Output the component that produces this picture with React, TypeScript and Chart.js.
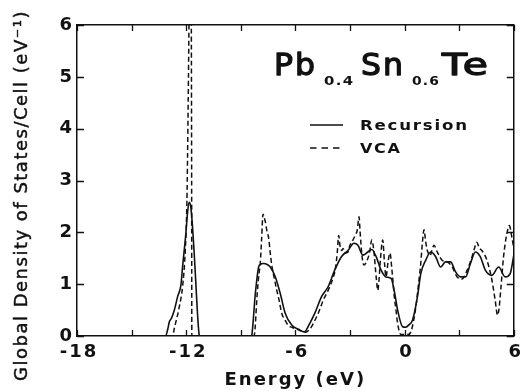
import React, { useEffect, useRef } from "react";
import { Chart, registerables } from "chart.js";

Chart.register(...registerables);

// ---- Data ----
const recursionEnergy = [
  -13.2, -13.14, -13.0, -12.93, -12.8, -12.65, -12.47, -12.29, -12.2, -12.02, -11.93, -11.84,
  -11.75, -11.65, -11.56, -11.47, -11.38, -11.29, -11.25,
  -8.42, -8.38, -8.2, -8.02, -7.93, -7.74, -7.55, -7.38, -7.1, -6.83, -6.56, -6.2, -5.83, -5.51,
  -5.2, -4.93, -4.56, -4.2, -3.84, -3.47, -3.11, -2.78, -2.56, -2.29, -2.02, -1.8, -1.56, -1.29,
  -1.02, -0.74, -0.56, -0.38, -0.11, 0.07, 0.25, 0.44, 0.71, 0.89, 1.16, 1.44, 1.71, 1.98, 2.25,
  2.53, 2.8, 3.07, 3.35, 3.62, 3.89, 4.16, 4.44, 4.8, 5.17, 5.53, 5.8, 6.0,
];
const recursionDos = [
  0, 0, 0.15, 0.27, 0.35, 0.5, 0.76, 0.98, 1.33, 1.97, 2.36, 2.58,
  2.5, 2.1, 1.6, 1.02, 0.44, 0.03, 0,
  0, 0.05, 0.82, 1.33, 1.38, 1.4, 1.38, 1.33, 1.14, 0.82, 0.44, 0.21, 0.13, 0.08,
  0.25, 0.44, 0.76, 0.95, 1.27, 1.53, 1.65, 1.79, 1.75, 1.56, 1.62, 1.67, 1.53, 1.27,
  1.14, 1.11, 0.86, 0.5, 0.18, 0.17, 0.22, 0.31, 0.76, 1.2, 1.46, 1.62, 1.53, 1.33, 1.43,
  1.43, 1.24, 1.14, 1.14, 1.4, 1.62, 1.53, 1.27, 1.17, 1.33, 1.14, 1.2, 1.55,
];

const vcaEnergy = [
  -13.0, -12.75, -12.65, -12.38, -12.2, -12.05, -11.96, -11.89, -11.84, -11.78, -11.72, -11.7, -11.69,
  -8.3, -8.24, -8.1, -8.0, -7.93, -7.85, -7.78, -7.72, -7.65, -7.55, -7.47, -7.38, -7.29, -7.15,
  -7.02, -6.9, -6.75, -6.56, -6.38, -6.2, -5.83, -5.47, -5.3, -5.11, -4.93, -4.74, -4.47, -4.2,
  -3.95, -3.8, -3.7, -3.62, -3.55, -3.45, -3.38, -3.25, -3.11, -3.0, -2.84, -2.7, -2.6, -2.5,
  -2.45, -2.4, -2.34, -2.24, -2.11, -1.93, -1.8, -1.69, -1.56, -1.47, -1.4, -1.33, -1.2, -1.1,
  -1.02, -0.9, -0.8, -0.7, -0.56, -0.47, -0.38, -0.2, 0.2, 0.35, 0.5, 0.62, 0.75, 0.89, 0.98,
  1.07, 1.15, 1.22, 1.3, 1.4, 1.5, 1.62, 1.8, 2.07, 2.35, 2.62, 2.89, 3.16, 3.44, 3.71, 3.85,
  3.98, 4.1, 4.25, 4.53, 4.8, 4.98, 5.11, 5.2, 5.3, 5.44, 5.62, 5.76, 5.9, 6.0,
];
const vcaDos = [
  0, 0, 0.15, 0.56, 0.95, 1.65, 2.6, 4.5, 6.2, 8.0, 6.2, 3.0, 0,
  0, 0.05, 0.8, 1.2, 1.4, 1.9, 2.35, 2.3, 2.2, 2.0, 1.9, 1.6, 1.35, 1.1,
  0.88, 0.7, 0.44, 0.3, 0.2, 0.17, 0.12, 0.07, 0.1, 0.18, 0.3, 0.44, 0.69, 0.88,
  1.1, 1.3, 1.6, 1.94, 1.75, 1.65, 1.69, 1.6, 1.62, 1.75, 1.85, 1.95, 2.04, 2.3,
  2.05, 1.8, 1.55, 1.37, 1.42, 1.6, 1.85, 1.65, 1.14, 0.88, 1.1, 1.46, 1.85, 1.4,
  1.14, 1.45, 1.6, 1.3, 0.75, 0.5, 0.24, 0.03, 0.03, 0.08, 0.3, 0.56, 0.95, 1.4, 1.8,
  2.05, 1.85, 1.7, 1.6, 1.55, 1.65, 1.75, 1.62, 1.46, 1.43, 1.33, 1.14, 1.1, 1.27, 1.53, 1.7,
  1.81, 1.7, 1.65, 1.46, 1.08, 0.69, 0.4, 0.55, 0.95, 1.53, 1.97, 2.13, 1.9, 1.7,
];

const energyMin = -18;
const energyMax = 6;
const energyStep = 3;
const energyTickLabels = ["-18", "-12", "-6", "0", "6"];
const dosMin = 0;
const dosMax = 6;
const dosStep = 1;

const seriesLabels = ["Recursion", "VCA"];
const xAxisTitle = "Energy (eV)";
const yAxisTitle = "Global Density of States/Cell (eV\u207B\u00B9)";
const compoundParts = ["Pb", "0.4", "Sn", "0.6", "Te"];
const compoundIsSub = [false, true, false, true, false];

const FONT = "'DejaVu Sans', sans-serif";
const INK = "#111";

// draws text stretched horizontally so it spans [x0, x1]
function drawFitted(
  ctx: CanvasRenderingContext2D,
  text: string,
  font: string,
  spacing: number,
  x0: number,
  x1: number,
  baseline: number,
  outline = 0
) {
  ctx.save();
  ctx.font = font;
  ctx.letterSpacing = `${spacing}px`;
  ctx.textAlign = "left";
  ctx.textBaseline = "alphabetic";
  const w = ctx.measureText(text).width - spacing;
  const sx = (x1 - x0) / w;
  ctx.translate(x0, baseline);
  ctx.scale(sx, 1);
  ctx.fillText(text, 0, 0);
  if (outline > 0) {
    ctx.lineWidth = outline;
    ctx.lineJoin = "round";
    ctx.strokeText(text, 0, 0);
  }
  ctx.restore();
}

const decorPlugin = {
  id: "decor",
  beforeDraw(chart: any) {
    chart.ctx.letterSpacing = "2px";
  },
  afterDraw(chart: any) {
    const ctx = chart.ctx as CanvasRenderingContext2D;
    const area = chart.chartArea;
    const L = area.left;
    const T = area.top;
    ctx.save();
    ctx.fillStyle = INK;
    ctx.strokeStyle = INK;

    // inward tick marks on all four sides
    ctx.lineWidth = 1.3;
    const xs = chart.scales.x;
    const ys = chart.scales.y;
    ctx.beginPath();
    for (const t of xs.ticks) {
      const px = Math.round(xs.getPixelForValue(t.value)) + 0.5;
      ctx.moveTo(px, area.bottom);
      ctx.lineTo(px, area.bottom - 6);
      ctx.moveTo(px, area.top);
      ctx.lineTo(px, area.top + 6);
    }
    for (const t of ys.ticks) {
      const py = Math.round(ys.getPixelForValue(t.value)) + 0.5;
      ctx.moveTo(area.left, py);
      ctx.lineTo(area.left + 7, py);
      ctx.moveTo(area.right, py);
      ctx.lineTo(area.right - 7, py);
    }
    ctx.stroke();

    // y axis title
    ctx.save();
    ctx.letterSpacing = "1.5px";
    ctx.font = `18px ${FONT}`;
    ctx.lineWidth = 0.45;
    ctx.translate(22, (area.top + area.bottom) / 2 + 15);
    ctx.rotate(-Math.PI / 2);
    ctx.textAlign = "center";
    ctx.textBaseline = "middle";
    ctx.fillText(yAxisTitle, 0, 0);
    ctx.strokeText(yAxisTitle, 0, 0);
    ctx.restore();

    // compound formula with subscripts
    const partSpans = [
      [L + 197, L + 238],
      [L + 247, L + 276],
      [L + 284, L + 326],
      [L + 335, L + 362],
      [L + 365, L + 411],
    ];
    compoundParts.forEach((txt, i) => {
      const sub = compoundIsSub[i];
      drawFitted(
        ctx,
        txt,
        sub ? `bold 11.5px ${FONT}` : `30px ${FONT}`,
        sub ? 1 : 2,
        partSpans[i][0],
        partSpans[i][1],
        sub ? T + 60 : T + 50,
        sub ? 0 : 1.3
      );
    });

    // legend
    const ds = chart.data.datasets;
    const lineY = [T + 100, T + 123];
    const textBase = [T + 105, T + 128];
    const textEnd = [L + 390, L + 323];
    ds.forEach((d: any, i: number) => {
      ctx.save();
      ctx.lineWidth = 1.5;
      ctx.setLineDash(i === 0 ? [] : [6.5, 5]);
      ctx.beginPath();
      ctx.moveTo(L + 233, lineY[i]);
      ctx.lineTo(L + 266, lineY[i]);
      ctx.stroke();
      ctx.restore();
      drawFitted(ctx, d.label, `bold 14px ${FONT}`, 1.5, L + 283, textEnd[i], textBase[i]);
    });
    ctx.restore();
  },
};

export default function App() {
  const ref = useRef<HTMLCanvasElement | null>(null);

  useEffect(() => {
    if (!ref.current) return;
    const recursionPoints = recursionEnergy.map((e, i) => ({ x: e, y: recursionDos[i] }));
    const vcaPoints = vcaEnergy.map((e, i) => ({ x: e, y: vcaDos[i] }));

    const tickFont = { family: FONT, size: 18, weight: "bold" as const };
    const axisCommon = {
      type: "linear" as const,
      border: { display: true, color: INK, width: 1.5 },
      grid: { display: false, drawOnChartArea: false, drawTicks: false },
    };

    const chart = new Chart(ref.current, {
      type: "line",
      data: {
        datasets: [
          {
            label: seriesLabels[0],
            data: recursionPoints,
            borderColor: INK,
            borderWidth: 1.6,
            pointRadius: 0,
            fill: false,
            cubicInterpolationMode: "monotone",
          },
          {
            label: seriesLabels[1],
            data: vcaPoints,
            borderColor: INK,
            borderWidth: 1.5,
            borderDash: [5, 3],
            pointRadius: 0,
            fill: false,
            cubicInterpolationMode: "monotone",
          },
        ],
      },
      options: {
        animation: false,
        responsive: false,
        events: [],
        layout: { padding: { top: 25, right: 9, left: 0, bottom: 0 } },
        plugins: { legend: { display: false }, tooltip: { enabled: false } },
        scales: {
          x: {
            ...axisCommon,
            position: "bottom",
            min: energyMin,
            max: energyMax,
            ticks: {
              stepSize: energyStep,
              autoSkip: false,
              maxRotation: 0,
              padding: 6,
              labelOffset: 2,
              color: INK,
              font: tickFont,
              callback: (v: any) => {
                const s = String(v);
                return energyTickLabels.includes(s) ? s : "";
              },
            },
            title: {
              display: true,
              text: xAxisTitle,
              color: INK,
              font: tickFont,
              padding: { top: 0, bottom: 0 },
            },
            afterFit: (s: any) => {
              s.height = 55;
            },
          },
          x2: {
            ...axisCommon,
            position: "top",
            min: energyMin,
            max: energyMax,
            ticks: { stepSize: energyStep, display: false },
            afterFit: (s: any) => {
              s.height = 0;
            },
          },
          y: {
            ...axisCommon,
            position: "left",
            min: dosMin,
            max: dosMax,
            ticks: { stepSize: dosStep, padding: 3, color: INK, font: tickFont },
            afterFit: (s: any) => {
              s.width = 77;
            },
          },
          y2: {
            ...axisCommon,
            position: "right",
            min: dosMin,
            max: dosMax,
            ticks: { stepSize: dosStep, display: false },
            afterFit: (s: any) => {
              s.width = 0;
            },
          },
        },
      } as any,
      plugins: [decorPlugin],
    });
    return () => chart.destroy();
  }, []);

  return (
    <div style={{ position: "absolute", left: 0, top: 0, width: 526, height: 391, background: "#fff" }}>
      <canvas ref={ref} width={526} height={391} />
    </div>
  );
}
